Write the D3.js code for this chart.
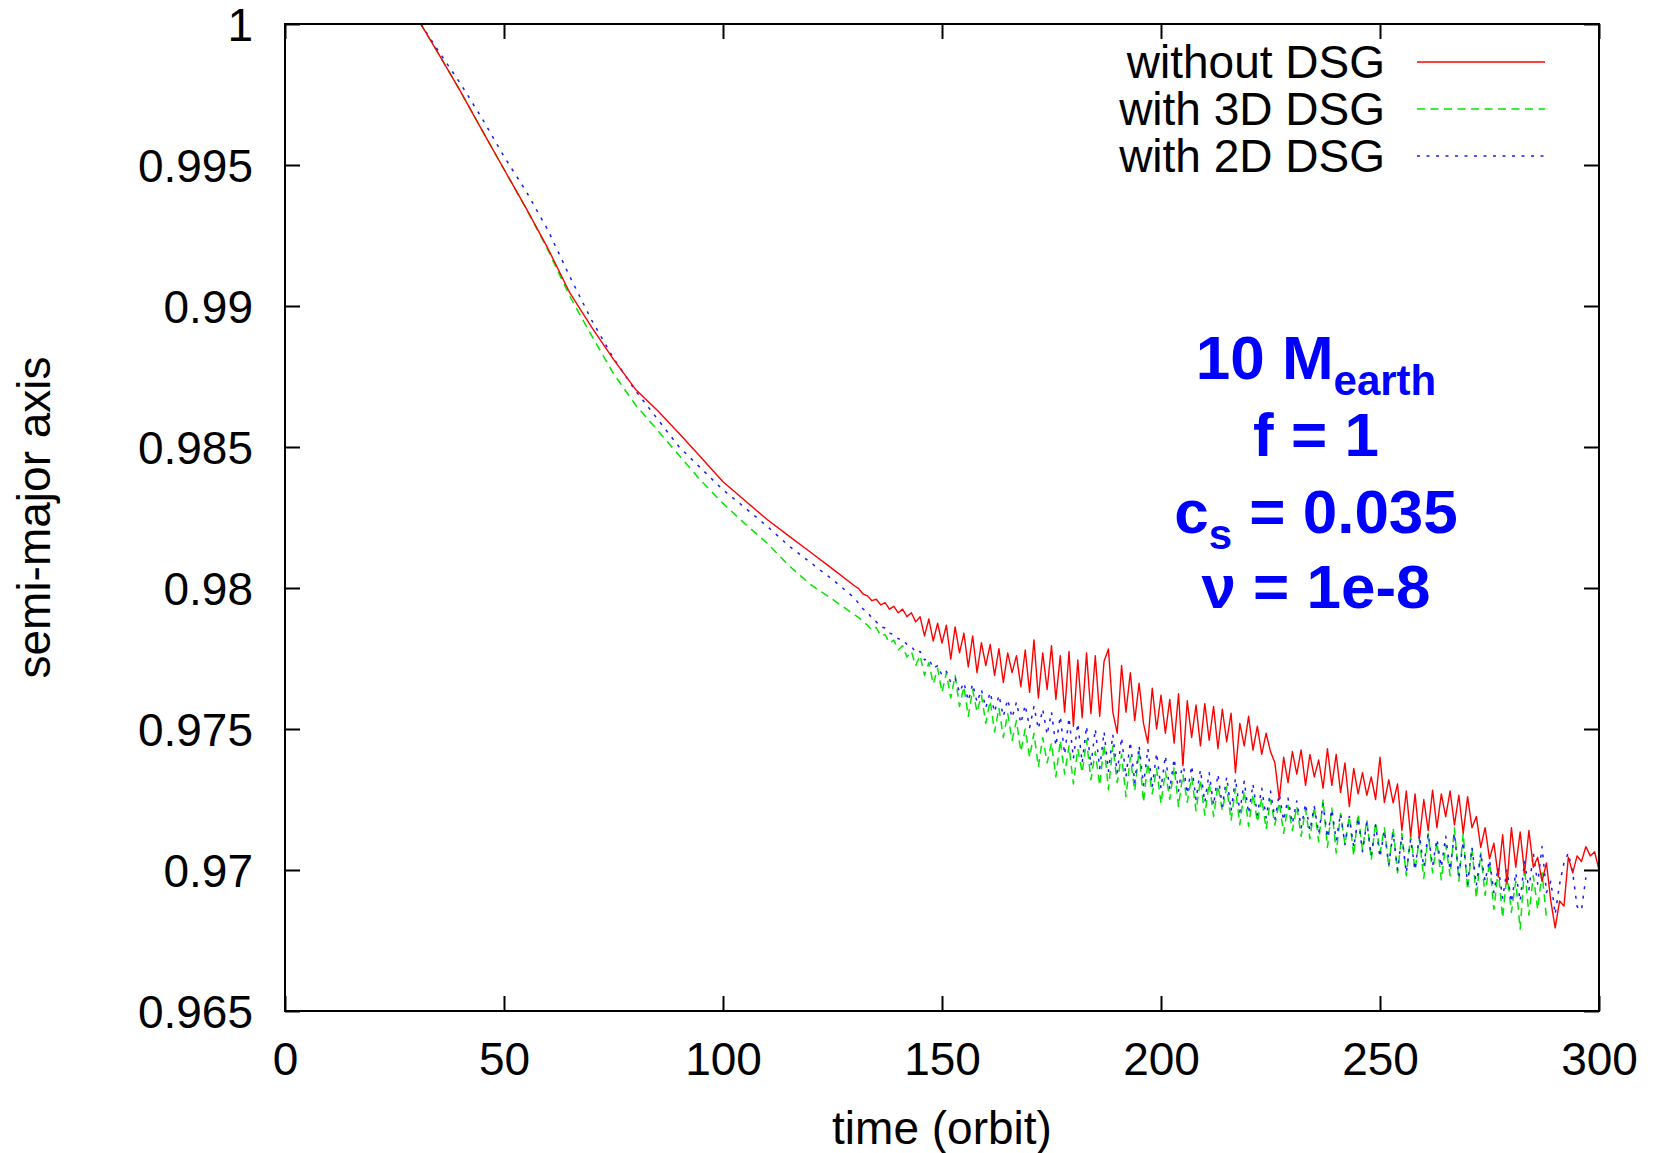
<!DOCTYPE html>
<html>
<head>
<meta charset="utf-8">
<script src="https://cdn.jsdelivr.net/npm/d3@7"></script>
<style>
  html, body { margin: 0; padding: 0; background: #ffffff; }
  svg { display: block; }
  text { font-family: "Liberation Sans", Arial, Helvetica, sans-serif; }
</style>
</head>
<body>
<svg id="chart" width="1654" height="1153"></svg>
<script>
// ---------------- data ----------------
const xTicks = [0, 50, 100, 150, 200, 250, 300];
const yTicks = [0.965, 0.97, 0.975, 0.98, 0.985, 0.99, 0.995, 1];
const yTickLabels = ["0.965", "0.97", "0.975", "0.98", "0.985", "0.99", "0.995", "1"];

const seriesNames = ["without DSG", "with 3D DSG", "with 2D DSG"];

// smooth early part: sample times (orbit)
const smoothTimes = [31, 35, 40, 45, 50, 55, 60, 65, 70, 75, 80, 85, 90, 95, 100, 105, 110, 115, 120, 125, 130];
const redSmooth   = [1.0, 0.99896, 0.99763, 0.99623, 0.99485, 0.99348, 0.99205, 0.99047, 0.98925, 0.98811, 0.98705, 0.98630, 0.98548, 0.98463, 0.98377, 0.98310, 0.98244, 0.98185, 0.98127, 0.98068, 0.98008];
const greenSmooth = [1.0, 0.99896, 0.99763, 0.99623, 0.99485, 0.99347, 0.99200, 0.99035, 0.98895, 0.98760, 0.98650, 0.98560, 0.98470, 0.98380, 0.98300, 0.98228, 0.98160, 0.98080, 0.98012, 0.97960, 0.97905];
const blueSmooth  = [1.0, 0.99905, 0.99790, 0.99665, 0.99530, 0.99408, 0.99270, 0.99105, 0.98950, 0.98815, 0.98700, 0.98600, 0.98500, 0.98424, 0.98348, 0.98285, 0.98220, 0.98150, 0.98090, 0.98030, 0.97965];

// oscillating late part: one value per orbit, starting at orbit 131
const noisyStart = 131;
const redNoisy = [
  0.97998, 0.97978, 0.97972, 0.97955, 0.97960, 0.97940, 0.97948, 0.97925, 0.97935, 0.97912,
  0.97925, 0.97898, 0.97912, 0.97880, 0.97898, 0.97830, 0.97890, 0.97812, 0.97875, 0.97805,
  0.97868, 0.97748, 0.97862, 0.97770, 0.97840, 0.97720, 0.97830, 0.97700, 0.97806, 0.97725,
  0.97800, 0.97690, 0.97785, 0.97665, 0.97770, 0.97700, 0.97760, 0.97650, 0.97780, 0.97630,
  0.97816, 0.97610, 0.97770, 0.97640, 0.97795, 0.97605, 0.97760, 0.97560, 0.97775, 0.97510,
  0.97745, 0.97540, 0.97770, 0.97555, 0.97760, 0.97545, 0.97740, 0.97784, 0.97560, 0.97485,
  0.97725, 0.97560, 0.97700, 0.97530, 0.97662, 0.97520, 0.97450, 0.97645, 0.97500, 0.97620,
  0.97485, 0.97605, 0.97450, 0.97625, 0.97370, 0.97600, 0.97470, 0.97585, 0.97440, 0.97590,
  0.97460, 0.97580, 0.97430, 0.97570, 0.97455, 0.97556, 0.97345, 0.97520, 0.97440, 0.97545,
  0.97425, 0.97510, 0.97410, 0.97485, 0.97420, 0.97380, 0.97250, 0.97400, 0.97310, 0.97420,
  0.97340, 0.97426, 0.97300, 0.97410, 0.97330, 0.97390, 0.97290, 0.97430, 0.97300, 0.97410,
  0.97275, 0.97380, 0.97225, 0.97360, 0.97270, 0.97345, 0.97265, 0.97330, 0.97250, 0.97400,
  0.97240, 0.97320, 0.97238, 0.97305, 0.97140, 0.97280, 0.97120, 0.97270, 0.97110, 0.97250,
  0.97140, 0.97283, 0.97150, 0.97270, 0.97189, 0.97280, 0.97160, 0.97265, 0.97130, 0.97260,
  0.97150, 0.97190, 0.97080, 0.97150, 0.97040, 0.97095, 0.96975, 0.97125, 0.96950, 0.97150,
  0.97010, 0.97135, 0.96990, 0.97140, 0.97010, 0.97045, 0.96960, 0.97025, 0.96890, 0.96795,
  0.96890, 0.96872, 0.97045, 0.96990, 0.97050, 0.97030, 0.97083, 0.97050, 0.97065, 0.97000
];
const greenNoisy = [
  0.97895, 0.97880, 0.97868, 0.97850, 0.97860, 0.97830, 0.97835, 0.97805, 0.97815, 0.97780,
  0.97795, 0.97755, 0.97775, 0.97725, 0.97760, 0.97690, 0.97735, 0.97660, 0.97715, 0.97630,
  0.97700, 0.97610, 0.97690, 0.97580, 0.97650, 0.97545, 0.97640, 0.97560, 0.97620, 0.97520,
  0.97600, 0.97490, 0.97575, 0.97470, 0.97555, 0.97460, 0.97530, 0.97420, 0.97500, 0.97400,
  0.97485, 0.97365, 0.97470, 0.97380, 0.97450, 0.97330, 0.97460, 0.97340, 0.97440, 0.97305,
  0.97430, 0.97345, 0.97460, 0.97320, 0.97420, 0.97300, 0.97445, 0.97285, 0.97440, 0.97310,
  0.97410, 0.97260, 0.97400, 0.97280, 0.97425, 0.97240, 0.97380, 0.97270, 0.97360, 0.97235,
  0.97350, 0.97250, 0.97365, 0.97225, 0.97340, 0.97240, 0.97330, 0.97210, 0.97320, 0.97195,
  0.97310, 0.97190, 0.97300, 0.97210, 0.97295, 0.97175, 0.97290, 0.97160, 0.97280, 0.97155,
  0.97270, 0.97170, 0.97255, 0.97145, 0.97250, 0.97160, 0.97240, 0.97130, 0.97230, 0.97140,
  0.97225, 0.97120, 0.97215, 0.97110, 0.97225, 0.97100, 0.97248, 0.97080, 0.97220, 0.97060,
  0.97200, 0.97090, 0.97190, 0.97050, 0.97200, 0.97070, 0.97180, 0.97035, 0.97170, 0.97060,
  0.97150, 0.97010, 0.97150, 0.96990, 0.97130, 0.96980, 0.97120, 0.97000, 0.97110, 0.96970,
  0.97130, 0.96990, 0.97100, 0.96965, 0.97090, 0.96980, 0.97150, 0.96960, 0.97130, 0.96930,
  0.97080, 0.96900, 0.97060, 0.96910, 0.97030, 0.96860, 0.97000, 0.96830, 0.96990, 0.96850,
  0.96960, 0.96790, 0.97010, 0.96840, 0.96980, 0.96860, 0.96990, 0.96830
];
const blueNoisy = [
  0.97945, 0.97925, 0.97915, 0.97892, 0.97880, 0.97862, 0.97858, 0.97840, 0.97835, 0.97820,
  0.97818, 0.97800, 0.97795, 0.97770, 0.97775, 0.97745, 0.97750, 0.97715, 0.97725, 0.97690,
  0.97705, 0.97665, 0.97680, 0.97630, 0.97665, 0.97600, 0.97660, 0.97595, 0.97640, 0.97575,
  0.97630, 0.97560, 0.97620, 0.97545, 0.97605, 0.97540, 0.97595, 0.97520, 0.97585, 0.97505,
  0.97580, 0.97500, 0.97570, 0.97480, 0.97560, 0.97440, 0.97545, 0.97410, 0.97540, 0.97395,
  0.97520, 0.97380, 0.97510, 0.97370, 0.97500, 0.97360, 0.97490, 0.97350, 0.97480, 0.97345,
  0.97470, 0.97330, 0.97455, 0.97310, 0.97440, 0.97300, 0.97430, 0.97295, 0.97415, 0.97290,
  0.97405, 0.97285, 0.97395, 0.97280, 0.97385, 0.97270, 0.97370, 0.97250, 0.97355, 0.97240,
  0.97345, 0.97230, 0.97340, 0.97225, 0.97330, 0.97210, 0.97325, 0.97205, 0.97315, 0.97200,
  0.97305, 0.97195, 0.97290, 0.97185, 0.97280, 0.97180, 0.97270, 0.97175, 0.97255, 0.97165,
  0.97245, 0.97150, 0.97235, 0.97140, 0.97225, 0.97130, 0.97236, 0.97115, 0.97215, 0.97105,
  0.97200, 0.97090, 0.97190, 0.97080, 0.97185, 0.97065, 0.97170, 0.97050, 0.97160, 0.97045,
  0.97140, 0.97020, 0.97130, 0.97000, 0.97120, 0.96990, 0.97110, 0.97000, 0.97125, 0.97010,
  0.97130, 0.97015, 0.97110, 0.97010, 0.97120, 0.97000, 0.97130, 0.96980, 0.97100, 0.96950,
  0.97080, 0.96945, 0.97060, 0.96960, 0.97036, 0.96920, 0.97010, 0.96900, 0.97000, 0.96885,
  0.96990, 0.96890, 0.97030, 0.96930, 0.97060, 0.96950, 0.97083, 0.96920, 0.96960, 0.96843,
  0.96950, 0.97025, 0.97060, 0.96990, 0.96870, 0.96857, 0.96974
];

// annotation text
const annoLines = [
  [{ t: "10 M" }, { t: "earth", sub: true }],
  [{ t: "f = 1" }],
  [{ t: "c" }, { t: "s", sub: true }, { t: " = 0.035" }],
  [{ t: "\u03BD = 1e-8" }]
];

// ---------------- drawing ----------------
const svg = d3.select("#chart");
const W = 1654, H = 1153;
const plot = { left: 285, right: 1599, top: 24, bottom: 1011 };

svg.append("rect").attr("width", W).attr("height", H).attr("fill", "#ffffff");

const x = d3.scaleLinear().domain([0, 300]).range([plot.left, plot.right]);
const y = d3.scaleLinear().domain([0.965, 1]).range([plot.bottom, plot.top]);

function build(smoothVals, noisyVals) {
  const pts = smoothTimes.map((t, i) => ({ t: t, a: smoothVals[i] }));
  noisyVals.forEach((a, i) => pts.push({ t: noisyStart + i, a: a }));
  return pts;
}

const series = [
  { name: seriesNames[0], data: build(redSmooth, redNoisy),   color: "#ff0000", dash: null,      width: 1.4 },
  { name: seriesNames[1], data: build(greenSmooth, greenNoisy), color: "#00e600", dash: "8,5.5",  width: 1.5 },
  { name: seriesNames[2], data: build(blueSmooth, blueNoisy),  color: "#1a1aff", dash: "3,6.5",   width: 1.5 }
];

const fontSize = 46;

// axes
const tickLen = 15;
const axB = d3.axisBottom(x).tickValues(xTicks).tickFormat(d3.format("d"))
  .tickSizeInner(-tickLen).tickSizeOuter(0).tickPadding(31);
const axT = d3.axisTop(x).tickValues(xTicks).tickFormat("")
  .tickSizeInner(-tickLen).tickSizeOuter(0);
const axL = d3.axisLeft(y).tickValues(yTicks).tickFormat((d, i) => yTickLabels[i])
  .tickSizeInner(-tickLen).tickSizeOuter(0).tickPadding(32);
const axR = d3.axisRight(y).tickValues(yTicks).tickFormat("")
  .tickSizeInner(-tickLen).tickSizeOuter(0);

function styleAxis(g) {
  g.select(".domain").remove();
  g.selectAll(".tick line").attr("stroke", "#000").attr("stroke-width", 2);
  g.selectAll(".tick text").attr("fill", "#000").attr("font-size", fontSize)
    .attr("font-family", "'Liberation Sans', Arial, Helvetica, sans-serif");
}

svg.append("g").attr("transform", `translate(0,${plot.bottom})`).call(axB).call(styleAxis);
svg.append("g").attr("transform", `translate(0,${plot.top})`).call(axT).call(styleAxis);
const gL = svg.append("g").attr("transform", `translate(${plot.left},0)`).call(axL).call(styleAxis);
gL.selectAll(".tick text").attr("dy", "0.36em");
svg.append("g").attr("transform", `translate(${plot.right},0)`).call(axR).call(styleAxis);

// clip
svg.append("clipPath").attr("id", "clip").append("rect")
  .attr("x", plot.left).attr("y", plot.top)
  .attr("width", plot.right - plot.left).attr("height", plot.bottom - plot.top);

const line = d3.line().x(d => x(d.t)).y(d => y(d.a));
const gLines = svg.append("g").attr("clip-path", "url(#clip)");
// draw blue, green first then red? reference: red on top in most places
[series[1], series[2], series[0]].forEach(s => {
  gLines.append("path").datum(s.data)
    .attr("d", line)
    .attr("fill", "none")
    .attr("stroke", s.color)
    .attr("stroke-width", s.width)
    .attr("stroke-linejoin", "round")
    .attr("stroke-dasharray", s.dash);
});

// frame
svg.append("rect")
  .attr("x", plot.left).attr("y", plot.top)
  .attr("width", plot.right - plot.left).attr("height", plot.bottom - plot.top)
  .attr("fill", "none").attr("stroke", "#000").attr("stroke-width", 2);

// legend
const legTextX = 1385, legLineX1 = 1417, legLineX2 = 1545;
const legRowY = [62, 109, 156];
series.forEach((s, i) => {
  svg.append("text")
    .attr("x", legTextX).attr("y", legRowY[i] + 16)
    .attr("text-anchor", "end").attr("font-size", fontSize).attr("fill", "#000")
    .text(s.name);
  svg.append("line")
    .attr("x1", legLineX1).attr("x2", legLineX2)
    .attr("y1", legRowY[i]).attr("y2", legRowY[i])
    .attr("stroke", s.color).attr("stroke-width", s.width)
    .attr("stroke-dasharray", s.dash);
});

// axis titles
svg.append("text")
  .attr("x", (plot.left + plot.right) / 2).attr("y", 1144)
  .attr("text-anchor", "middle").attr("font-size", fontSize).attr("fill", "#000")
  .text("time (orbit)");
svg.append("text")
  .attr("transform", `translate(50,${(plot.top + plot.bottom) / 2}) rotate(-90)`)
  .attr("text-anchor", "middle").attr("font-size", fontSize).attr("fill", "#000")
  .text("semi-major axis");

// annotation
const annoX = 1316;
const annoBase = [379, 456, 533, 608];
annoLines.forEach((parts, i) => {
  const t = svg.append("text")
    .attr("x", annoX).attr("y", annoBase[i])
    .attr("text-anchor", "middle")
    .attr("font-size", 62).attr("font-weight", "bold").attr("fill", "#0000ff");
  let shifted = false;
  parts.forEach(p => {
    const ts = t.append("tspan").text(p.t);
    if (p.sub) {
      ts.attr("font-size", 42).attr("dy", 16);
      shifted = true;
    } else if (shifted) {
      ts.attr("dy", -16);
      shifted = false;
    }
  });
});
</script>
</body>
</html>
